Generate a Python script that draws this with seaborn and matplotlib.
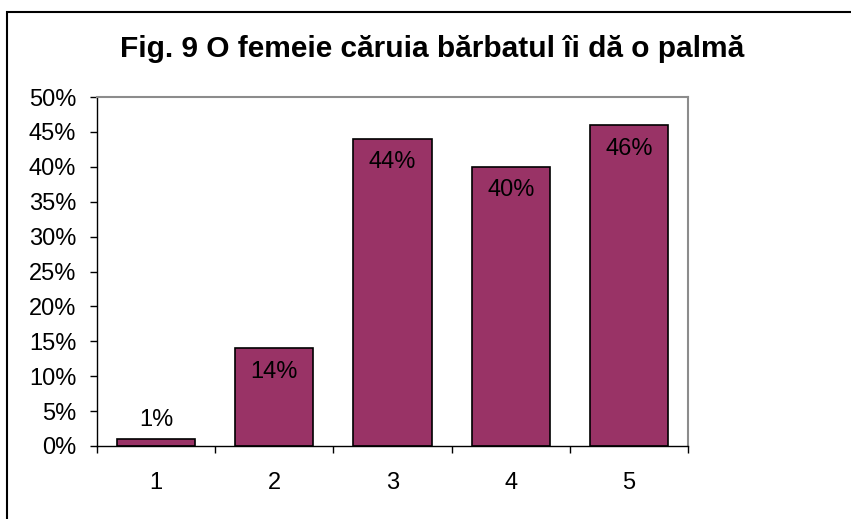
import matplotlib
matplotlib.use("Agg")
import matplotlib.pyplot as plt
from matplotlib.patches import Rectangle
from matplotlib.ticker import FixedLocator, FuncFormatter
import seaborn as sns

# data
categories = ["1", "2", "3", "4", "5"]
values = [1, 14, 44, 40, 46]
labels = ["1%", "14%", "44%", "40%", "46%"]
title = "Fig. 9 O femeie căruia bărbatul îi dă o palmă"

sns.set_style("white")
plt.rcParams["font.family"] = ["Liberation Sans", "DejaVu Sans"]
plt.rcParams["text.color"] = "black"
plt.rcParams["xtick.color"] = "black"
plt.rcParams["ytick.color"] = "black"

fig = plt.figure(figsize=(8.51, 5.19), dpi=100)
ax = fig.add_axes([97 / 851, 1 - 446 / 519, (688 - 97) / 851, (446 - 97) / 519])

sns.barplot(x=categories, y=values, color="#993366", edgecolor="black",
            linewidth=1.2, width=0.66, saturation=1, ax=ax)

ax.set_ylim(0, 50)
ax.set_xlim(-0.5, 4.5)
ax.set_yticks(range(0, 51, 5))
ax.yaxis.set_major_formatter(FuncFormatter(lambda v, p: f"{int(v)}%"))
ax.set_xlabel("")
ax.set_ylabel("")

# category boundary ticks on x axis
ax.xaxis.set_minor_locator(FixedLocator([i - 0.5 for i in range(6)]))
ax.tick_params(axis="x", which="major", length=0, pad=19, labelsize=17)
ax.tick_params(axis="x", which="minor", length=5, width=1, color="black", direction="out", bottom=True)
ax.tick_params(axis="y", which="major", length=5, width=1, color="black", direction="out",
               left=True, pad=10, labelsize=17)

for side in ["left", "bottom"]:
    ax.spines[side].set_color("black")
    ax.spines[side].set_linewidth(1)
for side in ["top", "right"]:
    ax.spines[side].set_color("#8c8c8c")
    ax.spines[side].set_linewidth(1.5)

# data labels: inside top of bar, above it for the tiny one
for i, (v, lab) in enumerate(zip(values, labels)):
    if v < 5:
        ax.annotate(lab, (i, v), xytext=(0, 14), textcoords="offset points",
                    ha="center", va="center", fontsize=17)
    else:
        ax.annotate(lab, (i, v), xytext=(0, -17), textcoords="offset points",
                    ha="center", va="center", fontsize=17)

fig.text(432 / 851, 1 - 49 / 519, title, ha="center", va="center",
         fontsize=21.5, fontweight="bold")

# outer chart frame (cut off at right and bottom)
fig.add_artist(Rectangle((7 / 851, -0.1), 2, 0.1 + 1 - 12 / 519, fill=False,
                         edgecolor="black", linewidth=1.5, transform=fig.transFigure))

fig.savefig("out.png", dpi=100)
